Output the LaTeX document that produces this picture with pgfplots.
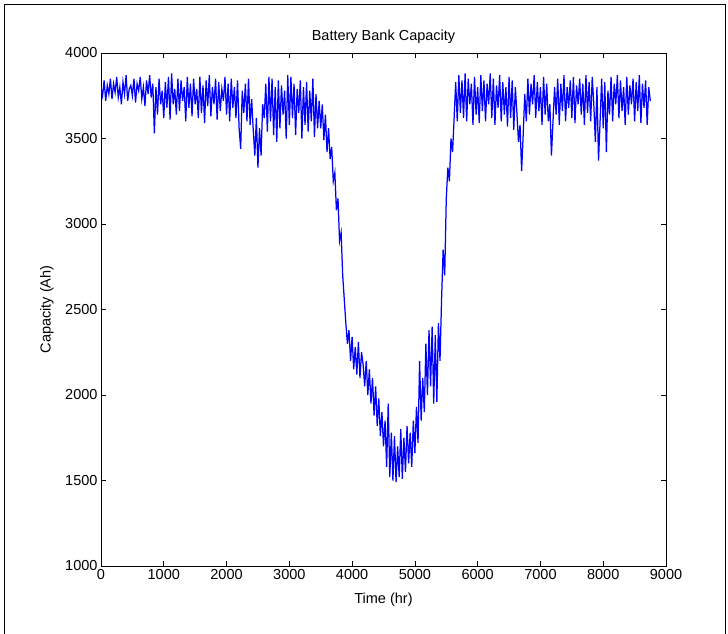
\documentclass[border=0pt]{standalone}
\usepackage{fontspec}
\setmainfont{Liberation Sans}
\usepackage{pgfplots}
\pgfplotsset{compat=1.18}
\begin{document}
\begin{tikzpicture}[x=1pt,y=1pt]
\useasboundingbox (0,0) rectangle (728,634);
\draw[line width=1pt] (4,0) -- (4,629) -- (725,629) -- (725,0);
\begin{axis}[
  at={(101pt,68pt)}, anchor=south west,
  scale only axis, width=565pt, height=513pt,
  xmin=0, xmax=9000, ymin=1000, ymax=4000,
  xtick={0,1000,...,9000}, ytick={1000,1500,...,4000},
  tick align=inside, major tick length=5pt,
  axis line style={line width=0.8pt},
  every tick/.style={line width=0.6pt, black},
  /pgf/number format/1000 sep={},
  /pgf/number format/assume math mode=true,
  tick label style={font=\fontsize{14.5}{16}\selectfont},
  title={Battery Bank Capacity},
  title style={font=\fontsize{14.5}{16}\selectfont, at={(axis description cs:0.5,1.012)}, anchor=base},
  xlabel={Time (hr)},
  xlabel style={font=\fontsize{14.5}{16}\selectfont, at={(axis description cs:0.5,-0.0663)}, anchor=center},
  ylabel={Capacity (Ah)},
  ylabel style={font=\fontsize{14.5}{16}\selectfont, at={(axis description cs:-0.0956,0.5)}, anchor=center, rotate=0},
]
\addplot[color={rgb,255:red,0;green,0;blue,255}, line width=1.25pt, mark=none, line join=miter] coordinates {
(0,3800)(25,3750)(50,3840)(75,3720)(100,3810)(125,3760)(150,3850)(175,3730)(200,3820)(225,3770)
(250,3860)(275,3740)(300,3800)(325,3700)(350,3830)(375,3760)(400,3870)(425,3720)(450,3790)(475,3810)
(500,3750)(525,3850)(550,3710)(575,3820)(600,3780)(625,3860)(650,3730)(675,3800)(700,3690)(725,3840)
(750,3760)(775,3870)(800,3740)(825,3820)(850,3530)(875,3800)(900,3640)(925,3850)(950,3700)(975,3780)
(1000,3620)(1025,3830)(1050,3680)(1075,3860)(1100,3610)(1125,3880)(1150,3700)(1175,3790)(1200,3640)(1225,3850)
(1250,3660)(1275,3840)(1300,3720)(1325,3800)(1350,3600)(1375,3860)(1400,3680)(1425,3820)(1450,3630)(1475,3850)
(1500,3700)(1525,3790)(1550,3620)(1575,3860)(1600,3650)(1625,3810)(1650,3590)(1675,3840)(1700,3690)(1725,3870)
(1750,3630)(1775,3800)(1800,3700)(1825,3850)(1850,3610)(1875,3830)(1900,3660)(1925,3790)(1950,3720)(1975,3860)
(2000,3640)(2025,3820)(2050,3600)(2075,3850)(2100,3680)(2125,3800)(2150,3620)(2175,3840)(2200,3560)(2225,3440)
(2250,3780)(2275,3650)(2300,3820)(2325,3600)(2350,3850)(2375,3580)(2400,3730)(2425,3550)(2450,3400)(2475,3620)
(2500,3330)(2525,3560)(2550,3400)(2575,3700)(2600,3620)(2625,3820)(2650,3540)(2675,3860)(2700,3600)(2725,3850)
(2750,3520)(2775,3800)(2800,3480)(2825,3840)(2850,3560)(2875,3810)(2900,3640)(2925,3780)(2950,3500)(2975,3870)
(3000,3580)(3025,3860)(3050,3620)(3075,3820)(3100,3520)(3125,3790)(3150,3650)(3175,3840)(3200,3500)(3225,3800)
(3250,3580)(3275,3830)(3300,3540)(3325,3780)(3350,3600)(3375,3850)(3400,3510)(3425,3760)(3450,3560)(3475,3720)
(3500,3560)(3525,3700)(3550,3490)(3575,3640)(3600,3420)(3625,3560)(3650,3380)(3675,3450)(3700,3250)(3725,3300)
(3750,3080)(3775,3150)(3800,2900)(3825,2950)(3850,2700)(3875,2560)(3900,2420)(3925,2300)(3950,2380)(3975,2200)
(4000,2340)(4025,2150)(4050,2280)(4075,2120)(4100,2310)(4125,2100)(4150,2250)(4175,2180)(4200,2050)(4225,2200)
(4250,2000)(4275,2150)(4300,1950)(4325,2100)(4350,1880)(4375,2050)(4400,1820)(4425,1980)(4450,1760)(4475,1900)
(4500,1700)(4525,1850)(4550,1580)(4575,1950)(4600,1520)(4625,1780)(4650,1500)(4675,1760)(4700,1490)(4725,1700)
(4750,1520)(4775,1800)(4800,1510)(4825,1750)(4850,1550)(4875,1820)(4900,1600)(4925,1780)(4950,1580)(4975,1850)
(5000,1660)(5025,1930)(5050,1720)(5075,2200)(5100,1850)(5125,2100)(5150,1900)(5175,2300)(5200,2000)(5225,2380)
(5250,2050)(5275,2400)(5300,1950)(5325,2350)(5350,1960)(5375,2420)(5400,2200)(5425,2560)(5450,2850)(5475,2700)
(5500,3150)(5525,3330)(5550,3250)(5575,3500)(5600,3420)(5625,3620)(5650,3830)(5675,3600)(5700,3870)(5725,3650)
(5750,3840)(5775,3620)(5800,3880)(5825,3600)(5850,3850)(5875,3700)(5900,3820)(5925,3580)(5950,3860)(5975,3640)
(6000,3800)(6025,3590)(6050,3870)(6075,3660)(6100,3840)(6125,3600)(6150,3820)(6175,3700)(6200,3880)(6225,3620)
(6250,3850)(6275,3580)(6300,3810)(6325,3680)(6350,3870)(6375,3600)(6400,3830)(6425,3640)(6450,3800)(6475,3570)
(6500,3860)(6525,3620)(6550,3840)(6575,3550)(6600,3800)(6625,3650)(6650,3480)(6675,3580)(6700,3310)(6725,3520)
(6750,3760)(6775,3600)(6800,3850)(6825,3640)(6850,3820)(6875,3700)(6900,3870)(6925,3620)(6950,3830)(6975,3660)
(7000,3800)(7025,3580)(7050,3860)(7075,3640)(7100,3820)(7125,3600)(7150,3700)(7175,3400)(7200,3600)(7225,3800)
(7250,3640)(7275,3850)(7300,3580)(7325,3820)(7350,3660)(7375,3870)(7400,3600)(7425,3800)(7450,3680)(7475,3840)
(7500,3620)(7525,3860)(7550,3590)(7575,3810)(7600,3700)(7625,3850)(7650,3640)(7675,3820)(7700,3580)(7725,3870)
(7750,3650)(7775,3830)(7800,3600)(7825,3860)(7850,3700)(7875,3480)(7900,3800)(7925,3370)(7950,3600)(7975,3850)
(8000,3560)(8025,3830)(8050,3420)(8075,3780)(8100,3640)(8125,3860)(8150,3600)(8175,3820)(8200,3700)(8225,3870)
(8250,3620)(8275,3840)(8300,3660)(8325,3800)(8350,3580)(8375,3860)(8400,3640)(8425,3810)(8450,3700)(8475,3850)
(8500,3600)(8525,3830)(8550,3660)(8575,3870)(8600,3590)(8625,3820)(8650,3680)(8675,3840)(8700,3580)(8725,3800)
(8750,3720)
};
\end{axis}
\end{tikzpicture}
\end{document}
